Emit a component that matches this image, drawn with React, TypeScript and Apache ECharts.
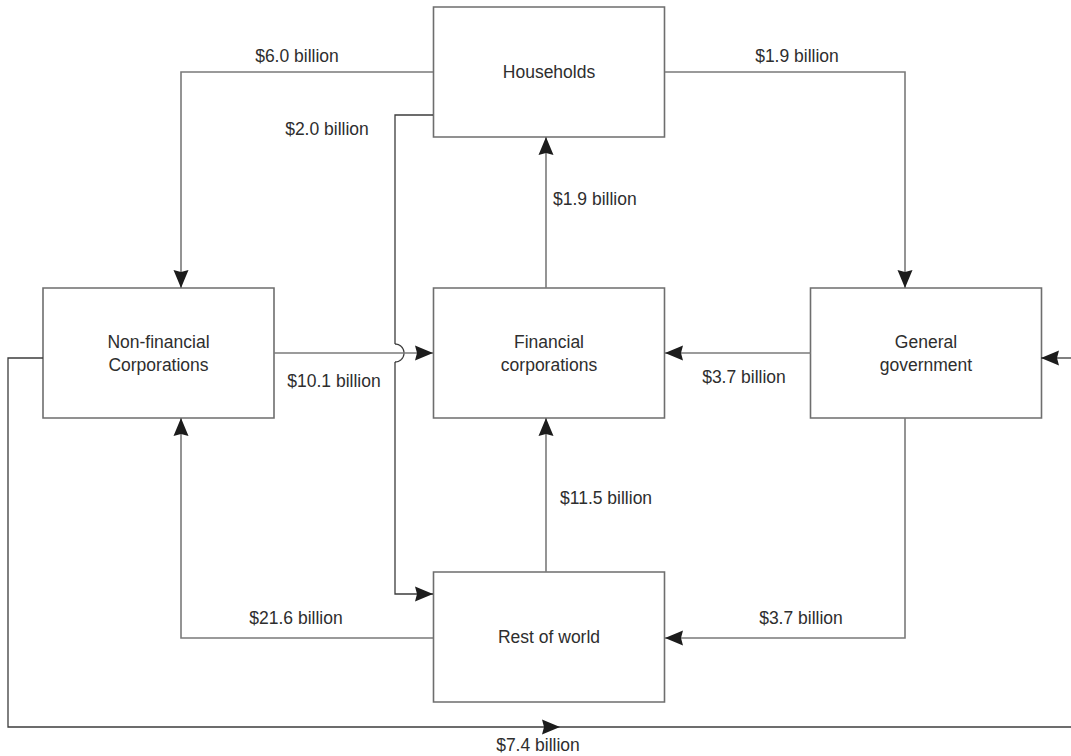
import React, { useEffect, useRef } from "react";
import * as echarts from "echarts";

// ---- data ----
const sectors = [
  "Households",
  "Non-financial\nCorporations",
  "Financial\ncorporations",
  "General\ngovernment",
  "Rest of world",
];
const flowFrom = [0, 0, 0, 2, 1, 3, 4, 4, 3, 1];
const flowTo = [1, 4, 3, 0, 2, 2, 2, 1, 4, 3];
const flowValues = [6.0, 2.0, 1.9, 1.9, 10.1, 3.7, 11.5, 21.6, 3.7, 7.4];
const flowLabels = flowValues.map((v) => `$${v.toFixed(1)} billion`);

// ---- layout (diagram space, 1071 x 756) ----
const W = 1071;
const H = 756;
const boxCenters = [
  [549, 72],
  [158.5, 353],
  [549, 353],
  [926, 353],
  [549, 637],
];
const boxW = 231;
const boxH = 130;

type Seg = { pts?: number[][]; arrow?: boolean; hop?: number[]; dark?: boolean };
const routes: Seg[][] = [
  [{ pts: [[433, 72], [181, 72], [181, 288]], arrow: true }],
  [
    { pts: [[433, 115], [395, 115], [395, 344]], dark: true },
    { hop: [395, 353, 9], dark: true },
    { pts: [[395, 362], [395, 594], [433, 594]], arrow: true, dark: true },
  ],
  [{ pts: [[665, 72], [905, 72], [905, 288]], arrow: true }],
  [{ pts: [[546, 288], [546, 137]], arrow: true }],
  [{ pts: [[274, 353], [433, 353]], arrow: true }],
  [{ pts: [[811, 353], [665, 353]], arrow: true }],
  [{ pts: [[546, 572], [546, 418]], arrow: true }],
  [{ pts: [[433, 638], [181, 638], [181, 418]], arrow: true }],
  [{ pts: [[905, 418], [905, 638], [665, 638]], arrow: true }],
  [
    { pts: [[43, 358], [8, 358], [8, 727], [560, 727]], arrow: true, dark: true },
    { pts: [[560, 727], [1071, 727]], dark: true },
    { pts: [[1071, 358], [1041, 358]], arrow: true, dark: true },
  ],
];
const labelPos: [number, number, string][] = [
  [297, 56, "center"],
  [327, 129, "center"],
  [797, 56, "center"],
  [553, 199, "left"],
  [334, 381, "center"],
  [744, 377, "center"],
  [560, 498, "left"],
  [296, 618, "center"],
  [801, 618, "center"],
  [538, 745, "center"],
];

const FONT = "'Liberation Sans', Arial, sans-serif";
const FONT_SIZE = 17.5;
const TEXT_COLOR = "#2e2e2e";
const LINE_COLOR = "#7a7a7a";
const DARK_LINE = "#3c3c3c";
const BOX_COLOR = "#6e6e6e";
const ARROW_COLOR = "#1c1c1c";

export default function App() {
  const ref = useRef<HTMLDivElement>(null);

  useEffect(() => {
    document.body.style.margin = "0";
    if (!ref.current) return;
    const chart = echarts.init(ref.current, null, { renderer: "svg" });

    const renderBoxes = (params: any, api: any) => {
      const i = params.dataIndex;
      const [cx, cy] = boxCenters[i];
      const p0 = api.coord([cx - boxW / 2, cy - boxH / 2]);
      const p1 = api.coord([cx + boxW / 2, cy + boxH / 2]);
      const c = api.coord([cx, cy]);
      return {
        type: "group",
        children: [
          {
            type: "rect",
            shape: { x: p0[0], y: p0[1], width: p1[0] - p0[0], height: p1[1] - p0[1] },
            style: { fill: "#ffffff", stroke: BOX_COLOR, lineWidth: 1.6 },
          },
          {
            type: "text",
            style: {
              text: sectors[i],
              x: c[0],
              y: c[1],
              align: "center",
              verticalAlign: "middle",
              fontSize: FONT_SIZE,
              lineHeight: 23,
              fontFamily: FONT,
              fill: TEXT_COLOR,
            },
          },
        ],
      };
    };

    const renderFlows = (params: any, api: any) => {
      const i = params.dataIndex;
      const children: any[] = [];
      for (const seg of routes[i]) {
        const stroke = seg.dark ? DARK_LINE : LINE_COLOR;
        const lw = seg.dark ? 1.3 : 1.6;
        if (seg.hop) {
          const [hx, hy, r] = seg.hop;
          const pts: number[][] = [];
          for (let k = 0; k <= 24; k++) {
            const a = -Math.PI / 2 + (Math.PI * k) / 24;
            pts.push(api.coord([hx + r * Math.cos(a), hy + r * Math.sin(a)]));
          }
          children.push({
            type: "polyline",
            shape: { points: pts },
            style: { stroke, lineWidth: lw, fill: "none" },
          });
          continue;
        }
        const pts = (seg.pts as number[][]).map((p) => api.coord(p));
        children.push({
          type: "polyline",
          shape: { points: pts },
          style: { stroke, lineWidth: lw, fill: "none" },
        });
        if (seg.arrow) {
          const t = pts[pts.length - 1];
          const s = pts[pts.length - 2];
          const dx = t[0] - s[0];
          const dy = t[1] - s[1];
          const len = Math.hypot(dx, dy) || 1;
          const ux = dx / len;
          const uy = dy / len;
          const nx = -uy;
          const ny = ux;
          const L = 18;
          const hw = 7.5;
          const notch = 2;
          children.push({
            type: "polygon",
            shape: {
              points: [
                [t[0], t[1]],
                [t[0] - L * ux + hw * nx, t[1] - L * uy + hw * ny],
                [t[0] - (L - notch) * ux, t[1] - (L - notch) * uy],
                [t[0] - L * ux - hw * nx, t[1] - L * uy - hw * ny],
              ],
            },
            style: { fill: ARROW_COLOR, stroke: "none" },
          });
        }
      }
      const [lx, ly, align] = labelPos[i];
      const lp = api.coord([lx, ly]);
      children.push({
        type: "text",
        style: {
          text: flowLabels[i],
          x: lp[0],
          y: lp[1],
          align,
          verticalAlign: "middle",
          fontSize: FONT_SIZE,
          fontFamily: FONT,
          fill: TEXT_COLOR,
        },
      });
      return { type: "group", children };
    };

    chart.setOption({
      animation: false,
      backgroundColor: "#ffffff",
      grid: { left: 0, right: 0, top: 0, bottom: 0 },
      xAxis: { type: "value", min: 0, max: W, show: false },
      yAxis: { type: "value", min: 0, max: H, inverse: true, show: false },
      tooltip: { show: false },
      series: [
        {
          type: "custom",
          name: "flows",
          clip: false,
          z: 3,
          silent: true,
          renderItem: renderFlows,
          data: flowValues.map((v, i) => [i, v, flowFrom[i], flowTo[i]]),
        },
        {
          type: "custom",
          name: "sectors",
          clip: false,
          z: 2,
          silent: true,
          renderItem: renderBoxes,
          data: sectors.map((_, i) => [i]),
        },
      ],
    });

    return () => chart.dispose();
  }, []);

  return <div ref={ref} style={{ width: W, height: H }} />;
}
